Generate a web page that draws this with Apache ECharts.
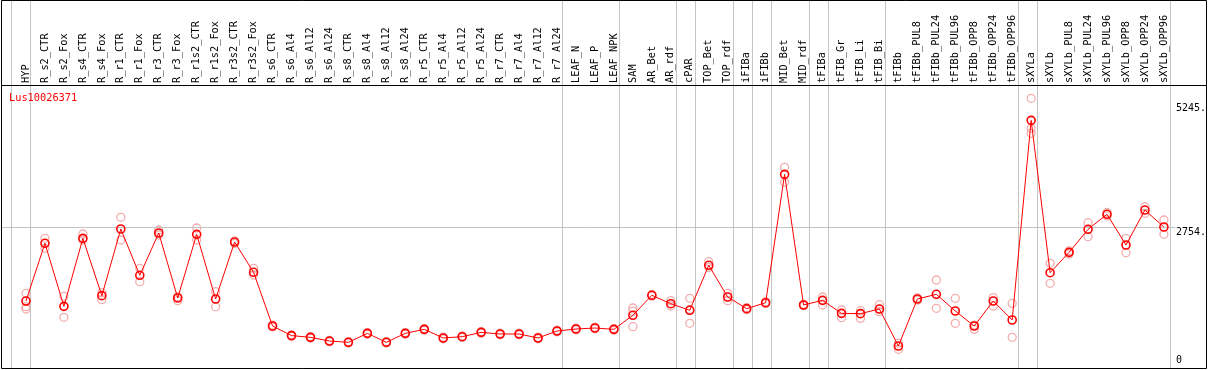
<!DOCTYPE html>
<html>
<head>
<meta charset="utf-8">
<script src="https://cdn.jsdelivr.net/npm/echarts@6/dist/echarts.min.js"></script>
<style>html,body{margin:0;padding:0;background:#fff}#c{width:1209px;height:370px}</style>
</head>
<body>
<div id="c"></div>
<script>
const categories = ["HYP","R_s2_CTR","R_s2_Fox","R_s4_CTR","R_s4_Fox","R_r1_CTR","R_r1_Fox","R_r3_CTR","R_r3_Fox","R_r1s2_CTR","R_r1s2_Fox","R_r3s2_CTR","R_r3s2_Fox","R_s6_CTR","R_s6_Al4","R_s6_Al12","R_s6_Al24","R_s8_CTR","R_s8_Al4","R_s8_Al12","R_s8_Al24","R_r5_CTR","R_r5_Al4","R_r5_Al12","R_r5_Al24","R_r7_CTR","R_r7_Al4","R_r7_Al12","R_r7_Al24","LEAF_N","LEAF_P","LEAF_NPK","SAM","AR_Bet","AR_rdf","cPAR","TOP_Bet","TOP_rdf","iFIBa","iFIBb","MID_Bet","MID_rdf","tFIBa","tFIB_Gr","tFIB_Li","tFIB_Bi","tFIBb","tFIBb_PUL8","tFIBb_PUL24","tFIBb_PUL96","tFIBb_OPP8","tFIBb_OPP24","tFIBb_OPP96","sXYLa","sXYLb","sXYLb_PUL8","sXYLb_PUL24","sXYLb_PUL96","sXYLb_OPP8","sXYLb_OPP24","sXYLb_OPP96"];
const meanValues = [1284,2441,1177,2541,1391,2728,1799,2648,1344,2621,1324,2467,1860,782,590,555,481,455,635,455,635,715,542,568,655,622,622,542,682,722,742,715,997,1398,1230,1097,2000,1364,1130,1250,3825,1204,1297,1036,1030,1123,381,1324,1418,1083,782,1284,903,4908,1852,2260,2722,3023,2407,3109,2768];
const rep1 = [1438,2541,1378,2628,1451,2963,1939,2708,1371,2748,1471,2490,1939,800,605,570,495,470,650,470,650,730,557,583,670,637,637,557,697,737,757,730,1143,1415,1290,1338,2072,1438,1150,1270,3966,1220,1364,1103,1090,1210,440,1345,1705,1338,800,1351,1237,5350,2040,2290,2855,3060,2541,3176,2909];
const rep2 = [1170,2341,957,2508,1310,2508,1671,2608,1290,2508,1170,2440,1805,765,575,540,465,440,620,440,620,700,527,553,640,607,607,527,667,707,727,700,769,1380,1184,836,1959,1290,1110,1230,3665,1190,1204,950,936,1070,315,1300,1137,836,715,1184,555,4748,1639,2230,2574,2990,2253,3043,2622];
const rep3 = [1123,null,null,null,null,null,null,null,null,null,null,null,null,null,null,null,null,null,null,null,null,null,null,null,null,null,null,null,null,null,null,null,1080,null,null,1117,null,null,null,null,null,null,null,null,null,null,null,null,null,null,null,null,null,4648,null,null,null,null,null,null,null];
const groupEnds = [-1,0,28,31,34,35,37,38,39,41,42,45,52,53,60];
const yTickValues = [2754,5245];
const geneName = "Lus10026371";

const YMAX = 5617;
const MONO = "'DejaVu Sans Mono', 'Liberation Mono', monospace";
const K = 280 / YMAX; // px per unit in main grid (top 85, bottom at 365)
const bgYMin = -3 / K, bgYMax = 365 / K;
const bgXMin = -0.5 - (16.5 - 2) / 19, bgXMax = categories.length - 0.5;

const chart = echarts.init(document.getElementById('c'), null, {renderer: 'canvas'});
const repStyle = {color: 'transparent', borderColor: '#f09999', borderWidth: 1.3};
const repSeries = [rep1, rep2, rep3].map(r => ({
  type: 'scatter', xAxisIndex: 0, yAxisIndex: 0, data: r,
  symbol: 'circle', symbolSize: 8, itemStyle: repStyle, z: 3, silent: true
}));

chart.setOption({
  animation: false,
  title: {text: geneName, left: 9, top: 93, padding: 0,
    textStyle: {color: '#ff0000', fontSize: 10.3, fontWeight: 'normal', fontFamily: MONO}},
  grid: [
    {left: 16.5, right: 33.5, top: 85, bottom: 5},
    {left: 2, right: 33.5, top: 0, bottom: 2}
  ],
  xAxis: [
    {type: 'category', gridIndex: 0, position: 'top', data: categories, boundaryGap: true,
      axisLine: {show: false}, axisTick: {show: false}, splitLine: {show: false},
      axisLabel: {rotate: 90, interval: 0, margin: 2, color: '#000', fontSize: 10.3, fontFamily: MONO}},
    {type: 'value', gridIndex: 1, min: bgXMin, max: bgXMax, show: false}
  ],
  yAxis: [
    {type: 'value', gridIndex: 0, position: 'right', min: 0, max: YMAX,
      axisLine: {show: false}, axisTick: {show: false}, splitLine: {show: false},
      axisLabel: {customValues: yTickValues, verticalAlign: 'top', margin: 2.5, color: '#000',
        fontSize: 10, fontFamily: MONO, formatter: v => v + '.'}},
    {type: 'value', gridIndex: 0, position: 'right', min: 0, max: YMAX,
      axisLine: {show: false}, axisTick: {show: false}, splitLine: {show: false},
      axisLabel: {customValues: [0], verticalAlign: 'bottom', margin: 2.5, color: '#000',
        fontSize: 10, fontFamily: MONO, formatter: v => String(v)}},
    {type: 'value', gridIndex: 1, min: bgYMin, max: bgYMax, show: false}
  ],
  graphic: [
    {type: 'rect', shape: {x: 1.5, y: 0.5, width: 1205, height: 368}, style: {fill: 'none', stroke: '#000', lineWidth: 1}, z: 100, silent: true},
    {type: 'line', shape: {x1: 1, y1: 85.5, x2: 1207, y2: 85.5}, style: {stroke: '#000', lineWidth: 1}, z: 100, silent: true}
  ],
  series: [
    {type: 'line', xAxisIndex: 1, yAxisIndex: 2, data: [], silent: true, z: 1,
      markLine: {silent: true, symbol: 'none', label: {show: false}, animation: false,
        lineStyle: {color: '#c4c4c4', width: 1, type: 'solid'},
        data: groupEnds.map(i => ({xAxis: i + 0.24})).concat([{yAxis: 2754}])}},
    ...repSeries,
    {type: 'line', xAxisIndex: 0, yAxisIndex: 0, data: meanValues, z: 5, silent: true,
      symbol: 'circle', symbolSize: 8, showAllSymbol: true,
      lineStyle: {color: '#ff0000', width: 1},
      itemStyle: {color: 'transparent', borderColor: '#ff0000', borderWidth: 1.6}}
  ]
});
</script>
</body>
</html>
